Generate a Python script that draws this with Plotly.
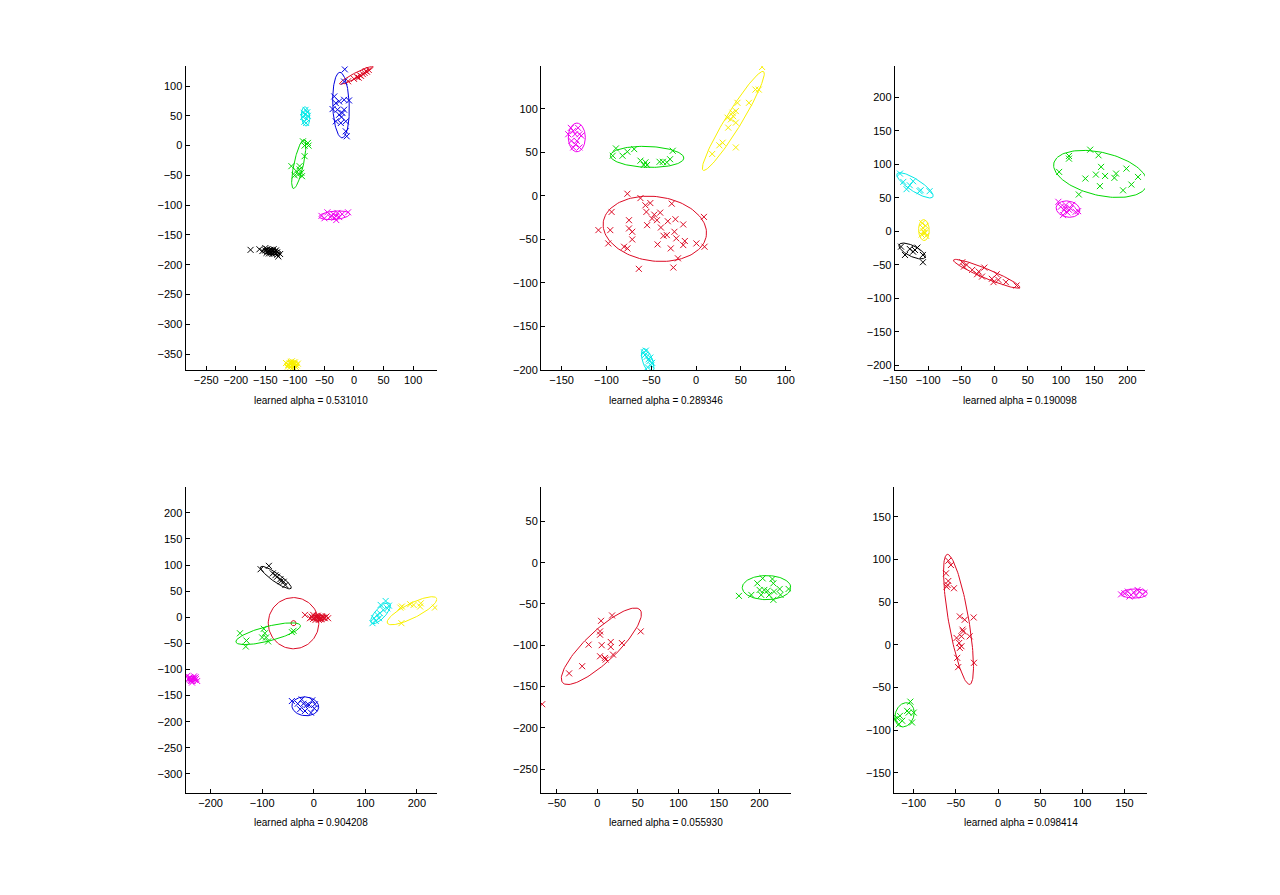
import numpy as np
import plotly.graph_objects as go

# ---------------- data ----------------
# subplot 1
s1_red_x = [-10, 0, 5, 8, 10, 12, 15, 18, 20, 22, 25]
s1_red_y = [108, 112, 115, 114, 118, 117, 120, 122, 125, 124, 127]
s1_blue_x = [-15.6, -16.7, -33.4, -30.7, -25.1, -16.7, -8.4, -36.2, -27.9, -16.7, -25.1, -19.5, -30.7, -22.3, -13.9, -12.3, -13.9, -21.2]
s1_blue_y = [128, 107.5, 82.5, 71.3, 74.1, 76.9, 75.8, 61.3, 60.2, 60.2, 51.8, 54.6, 40.7, 37.9, 40.7, 15.6, 24, 47.9]
s1_cyan_x = [-85, -82, -80, -84, -78, -86, -81, -79, -83]
s1_cyan_y = [55, 60, 45, 40, 50, 48, 38, 56, 52]
s1_green_x = [-86.4, -83.6, -76.9, -83.6, -105.9, -92, -89.2, -100.3, -94.8, -88, -92, -97.5, -78]
s1_green_y = [7.2, 0, 0, -17.8, -34.5, -40, -45.7, -50, -48.5, -51.3, -34.5, -42.9, 4.5]
s1_magenta_x = [-45, -35, -30, -25, -40, -50, -20, -10, -55, -30, -38, -28, -33]
s1_magenta_y = [-112, -115, -118, -120, -120, -122, -115, -112, -118, -125, -118, -113, -121]
s1_black_x = [-175, -160, -150, -145, -140, -135, -130, -125, -128, -148, -142, -138, -132, -155, -136, -144,
              -150, -146, -141, -137, -133, -139, -143, -147, -134, -130]
s1_black_y = [-175, -174, -172, -176, -178, -180, -179, -182, -186, -180, -175, -182, -176, -177, -174, -181,
              -176, -178, -180, -177, -181, -175, -177, -174, -178, -183]
s1_yellow_x = [-115, -110, -105, -100, -108, -95, -102, -112, -98, -106, -104, -109, -101, -97, -107, -111, -103, -100]
s1_yellow_y = [-365, -368, -362, -370, -372, -366, -364, -371, -372, -366, -369, -365, -367, -369, -363, -368, -372, -364]

# subplot 2
s2_magenta_x = [-142.6, -137, -135, -130, -139, -133, -130, -137, -128, -131.6, -139.7, -134.5]
s2_magenta_y = [70.7, 74.5, 70.7, 70.7, 63, 63, 55.5, 55.5, 69, 78, 78, 59]
s2_green_x = [-93, -89.4, -82, -76.6, -69, -62, -58.3, -56.4, -54.6, -40.7, -37, -29, -26, -32.6]
s2_green_y = [46, 54.4, 46, 50.6, 53.6, 40.3, 35.4, 38.4, 35.4, 39, 39, 42, 51.7, 38.4]
s2_yellow_x = [18, 26, 29.7, 40.7, 44.4, 38.9, 44.4, 35.9, 44.4, 46.2, 59, 66.3, 70, 73.7, 35.2, 41.4]
s2_yellow_y = [48, 58, 61, 95.4, 97.3, 87.8, 84, 78.3, 55.5, 106.8, 106.8, 122, 122, 148, 89.7, 91.4]
s2_red_x = [-76.6, -62, -94.2, -108.9, -95.7, -97.9, -74.8, -74.8, -71.2, -71.2, -80.3, -76.6, -63.8, -56.5,
            -55.4, -51, -54.6, -49.1, -46.6, -43.6, -40, -39.2, -42.9, -36.3, -32.6, -31.5, -28.2, -27.1,
            -25.3, -23, -24.1, -22, -14.3, -12.5, -14.3, 0.4, 8.8, 9.5, -20.2]
s2_red_y = [2.3, -2.7, -18.6, -39.5, -39.5, -54.8, -28.1, -37.6, -41.4, -50.2, -58.6, -60.5, -84, -11,
            -18.6, -8.4, -33.8, -26.2, -21.7, -28.1, -19.4, -36.5, -55.9, -46, -45.2, -29.3, -60.5, -9.1,
            -82.5, -27, -41.4, -49, -56.7, -52, -33, -54.8, -24.3, -58.6, -71.9]
s2_cyan_x = [-58, -55, -52, -50, -56, -53, -49, -57, -54, -51]
s2_cyan_y = [-180, -185, -190, -195, -178, -188, -192, -183, -197, -186]

# subplot 3
s3_cyan_x = [-142.6, -137.6, -132.7, -122.8, -113, -111.4, -98, -127.8]
s3_cyan_y = [86, 73.6, 62.7, 74.6, 59.7, 61.2, 59.7, 68.6]
s3_yellow_x = [-108, -105, -110, -104, -107, -103, -109, -106]
s3_yellow_y = [5, -3, -5, 8, 0, -7, 12, -2]
s3_black_x = [-141, -127.8, -122.8, -116.4, -108, -108, -135, -120]
s3_black_y = [-23, -26.5, -30.5, -24.5, -35.4, -46.3, -35.4, -28]
s3_red_x = [-48.7, -46.3, -33.8, -24, -15.5, -19, -4.2, 3.2, 5.7, 17, 33, -42.2, -26.4, -1.7]
s3_red_y = [-46.3, -52.8, -57.7, -60.2, -54.3, -67.7, -71, -64.2, -72.6, -76, -81, -50.3, -64.2, -76]
s3_magenta_x = [96, 99.6, 104.6, 107, 114.5, 122, 125.8, 103, 109.5, 117, 106, 112]
s3_magenta_y = [43.9, 36.4, 31.5, 39, 34, 29, 30, 24, 28, 39.4, 35, 32]
s3_green_x = [97.2, 112, 112, 144, 156.5, 160.4, 152.5, 166.4, 136.7, 158.6, 180.4, 183, 198.5, 206, 193.5, 216, 126.8]
s3_green_y = [88.5, 112.3, 108.3, 121.7, 113.3, 96, 84.5, 82.5, 78.6, 67.3, 79.6, 86, 93.4, 69.6, 61, 81, 54.8]

# subplot 4
s4_black_x = [-103, -87, -79.4, -71.1, -64.7, -58.3, -55, -63.5, -74.3]
s4_black_y = [92, 98.5, 84, 77.6, 73, 68, 61.7, 69, 80.5]
s4_red_x = [-7.3, -4.1, -1, 2.2, 5.4, 8.6, 11.8, 15, 18.2, 21.4, 24.6, 3.5, 9.9, -1, 27.8, -17,
            0, 6, 12, 16, 20, 8, 14, -3]
s4_red_y = [-1.8, 1.4, -3, -0.5, 2.7, -1.8, 1.4, -3, 0.1, -1.8, 1.4, -5, -5, 4.6, -1.8, 4.6,
            -2, 0, -3, 2, -1, 3, -4, 0]
s4_green_x = [-143, -130.5, -131.7, -100, -96.8, -92.3, -88.4, -42.4, -39.2, -94.7]
s4_green_y = [-30.6, -44.6, -56, -38.6, -22, -38.6, -46.2, -28.4, -25.9, -30.6]
s4_magenta_x = [-245, -240, -235, -230, -238, -232, -228, -242, -236, -226, -233, -239, -229, -235, -241]
s4_magenta_y = [-112, -115, -118, -120, -122, -113, -118, -119, -125, -122, -116, -120, -115, -122, -116]
s4_blue_x = [-42.4, -31, -23.3, -20, -13.7, -9.3, -2.9, 1, -5.4, -17, -26.5, 2.2]
s4_blue_y = [-160.4, -165.5, -157.3, -165.5, -168, -168, -159, -174.4, -182.6, -179.4, -176, -166.7]
s4_cyan_x = [113.9, 117, 123.4, 128.5, 134.9, 139.4, 129.8, 142.6, 120.2, 126.6, 145.8]
s4_cyan_y = [-11.3, -1.8, 4.6, 7.7, 14.1, 31.2, 23.6, 17.2, -7, -1.8, 22.3]
s4_yellow_x = [168, 171, 187, 193.6, 206.3, 207.5, 235, 170]
s4_yellow_y = [18.5, 20.6, 25, 23.6, 20.6, 26.7, 18.5, -11.3]

# subplot 5
s5_red_x = [-34.8, -18.7, -10.7, 4.6, 3.4, 3.4, 5.4, 3.4, 9.4, 10.3, 16.6, 16.6, 19.4, 18.2, 30.3, 53.5, -68]
s5_red_y = [-134, -125.3, -99.2, -70.4, -83.2, -87.2, -99.9, -113.3, -115.3, -117.3, -96, -102, -111.3, -63.9, -97.3, -83.2, -171.3]
s5_green_x = [174.7, 190, 197.4, 200.2, 202.2, 204, 206, 216, 217.2, 212, 217.2, 218, 225, 226, 236, 210]
s5_green_y = [-40.2, -39, -25, -33, -39, -19, -33, -19.8, -25, -39, -45, -35, -31.8, -39, -31.8, -34]

# subplot 6
s6_red_x = [-59, -55.9, -61.7, -59, -59.8, -61, -52.3, -45.3, -39.5, -28.9, -41.4, -43.4, -49.2, -46.1,
            -43.4, -45.3, -33.6, -48.4, -47.3, -28.5, -42.2]
s6_red_y = [98.4, 93.4, 83.7, 74.7, 70, 68, 66.2, 33.2, 29.3, 32, 15.7, 9.9, 8, 2.1,
            -1.7, -3.7, 9.9, -15.3, -26.2, -21.1, 17.7]
s6_green_x = [-119.5, -116.4, -117.6, -107.8, -104, -100, -102, -106, -113.7, -122.7]
s6_green_y = [-86, -83.2, -93, -77.4, -66.6, -79.4, -91, -79.4, -89, -87]
s6_magenta_x = [150, 154, 158, 161, 163.7, 167.6, 171.5, 175.4, 156, 165.6, 146]
s6_magenta_y = [60.3, 62.3, 58.4, 61.5, 57.6, 62.3, 59.2, 62.3, 56.5, 64.2, 59]

# ellipse parameters: (colour, centre x, centre y, semi-major, semi-minor, angle in degrees)
s1_ellipses = [("r", 4, 118, 32, 4.5, 27), ("b", -22, 68, 55, 14, 92), ("c", -82, 49, 16, 7, 95),
               ("g", -93.5, -31, 42, 8, 77.5), ("m", -33, -117, 26, 7, 5), ("k", -140, -178, 16, 5, -5),
               ("y", -105, -367, 12, 6, 0)]
s2_ellipses = [("m", -133, 67, 16.5, 9.5, 90), ("g", -54.6, 44.7, 41, 12, -2), ("y", 41.6, 86, 66, 9, 59.3),
               ("r", -46, -38, 58, 37, -8), ("c", -54, -190, 15, 5.5, -72)]
s3_ellipses = [("c", -120, 68.5, 32, 9, -32.7), ("y", -106.5, 1.7, 15.6, 8, 92), ("k", -124.3, -29.5, 21.7, 8, -25.7),
               ("r", -12, -63.5, 54, 7, -22.3), ("m", 110.5, 33, 18, 12, -10), ("g", 159.4, 85.5, 72, 32, -13)]
s4_ellipses = [("k", -73.4, 76, 36, 8, -34.9), ("r", -39.2, -11.3, 49, 49, 0), ("r", -39.2, -11.3, 5, 5, 0),
               ("r", 10, -1, 18, 5, 0), ("g", -88.4, -31.5, 64.5, 14, 14.2), ("m", -236, -118, 9, 5, 0),
               ("b", -16.3, -170.5, 26, 18, -5), ("c", 129.6, 7.7, 25.8, 10, 47), ("y", 190.5, 12.5, 53.4, 14, 26.4)]
s5_ellipses = [("r", 5, -101.2, 65, 19, 42.8), ("g", 208.8, -30.2, 30, 14.6, 0)]
s6_ellipses = [("r", -46.9, 29.7, 77.3, 12, 99.9), ("g", -110.9, -82, 14.5, 11, 70), ("m", 161.7, 60, 15.6, 5.4, 0)]

alphas = ["0.531010", "0.289346", "0.190098", "0.904208", "0.055930", "0.098414"]

x_ranges = [[-285, 141], [-173, 106], [-150.5, 226.5], [-248.5, 239.6], [-69.5, 239], [-123.4, 177.3]]
y_ranges = [[-377, 133], [-200.5, 148.7], [-207.4, 246], [-336, 249], [-278.5, 91.3], [-173.3, 184.5]]
x_dticks = [50, 50, 50, 100, 50, 50]

# ---------------- styling ----------------
COLORS = {"r": "#DC0A24", "g": "#00D800", "b": "#0000E0", "c": "#00E8E8",
          "m": "#F000F0", "y": "#F8F000", "k": "#000000"}
FONT = "Liberation Sans, Arial, Helvetica, sans-serif"

OFF = 8  # page body margin
W, H = 1256, 870
x_px = [(175.7, 430.7), (535.7, 789.0), (894.0, 1147.5), (175.7, 430.7), (535.7, 789.0), (893.3, 1150.0)]
y_px = [(66.7, 372.3)] * 3 + [(490.0, 797.3)] * 3

points = [
    [("r", s1_red_x, s1_red_y), ("b", s1_blue_x, s1_blue_y), ("c", s1_cyan_x, s1_cyan_y),
     ("g", s1_green_x, s1_green_y), ("m", s1_magenta_x, s1_magenta_y), ("k", s1_black_x, s1_black_y),
     ("y", s1_yellow_x, s1_yellow_y)],
    [("m", s2_magenta_x, s2_magenta_y), ("g", s2_green_x, s2_green_y), ("y", s2_yellow_x, s2_yellow_y),
     ("r", s2_red_x, s2_red_y), ("c", s2_cyan_x, s2_cyan_y)],
    [("c", s3_cyan_x, s3_cyan_y), ("y", s3_yellow_x, s3_yellow_y), ("k", s3_black_x, s3_black_y),
     ("r", s3_red_x, s3_red_y), ("m", s3_magenta_x, s3_magenta_y), ("g", s3_green_x, s3_green_y)],
    [("k", s4_black_x, s4_black_y), ("r", s4_red_x, s4_red_y), ("g", s4_green_x, s4_green_y),
     ("m", s4_magenta_x, s4_magenta_y), ("b", s4_blue_x, s4_blue_y), ("c", s4_cyan_x, s4_cyan_y),
     ("y", s4_yellow_x, s4_yellow_y)],
    [("r", s5_red_x, s5_red_y), ("g", s5_green_x, s5_green_y)],
    [("r", s6_red_x, s6_red_y), ("g", s6_green_x, s6_green_y), ("m", s6_magenta_x, s6_magenta_y)],
]
ellipses = [s1_ellipses, s2_ellipses, s3_ellipses, s4_ellipses, s5_ellipses, s6_ellipses]


def ellipse_outline(cx, cy, a, b, ang):
    t = np.linspace(0, 2 * np.pi, 121)
    th = np.deg2rad(ang)
    ex = cx + a * np.cos(t) * np.cos(th) - b * np.sin(t) * np.sin(th)
    ey = cy + a * np.cos(t) * np.sin(th) + b * np.sin(t) * np.cos(th)
    return ex, ey


fig = go.Figure()
layout = dict(width=W, height=H, margin=dict(l=0, r=0, t=0, b=0),
              paper_bgcolor="white", plot_bgcolor="white", showlegend=False,
              font=dict(family=FONT, size=11, color="black"), annotations=[])

for i in range(6):
    n = "" if i == 0 else str(i + 1)
    xa, ya = "x" + n, "y" + n
    for (col, cx, cy, a, b, ang) in ellipses[i]:
        ex, ey = ellipse_outline(cx, cy, a, b, ang)
        fig.add_trace(go.Scatter(x=ex, y=ey, mode="lines", xaxis=xa, yaxis=ya,
                                 line=dict(color=COLORS[col], width=1), hoverinfo="skip"))
    for (col, px, py) in points[i]:
        fig.add_trace(go.Scatter(x=px, y=py, mode="markers", xaxis=xa, yaxis=ya,
                                 marker=dict(symbol="x-thin-open", size=6, color=COLORS[col],
                                             line=dict(color=COLORS[col], width=1))))
    x0, x1 = [v - OFF for v in x_px[i]]
    y0, y1 = [v - OFF for v in y_px[i]]
    common = dict(showgrid=False, zeroline=False, showline=True, linecolor="black", linewidth=1,
                  ticks="inside", ticklen=4, tickcolor="black", tickwidth=1,
                  tickfont=dict(family=FONT, size=11, color="black"), mirror=False)
    layout["xaxis" + n] = dict(domain=[x0 / W, x1 / W], range=x_ranges[i], anchor=ya,
                               dtick=x_dticks[i], tick0=0, **common)
    layout["yaxis" + n] = dict(domain=[1 - y1 / H, 1 - y0 / H], range=y_ranges[i], anchor=xa,
                               dtick=50, tick0=0, **common)
    layout["annotations"].append(dict(
        text="learned alpha = " + alphas[i], xref="paper", yref="paper",
        x=(x0 + x1) / 2 / W, y=1 - (y1 + 30) / H, xanchor="center", yanchor="middle",
        showarrow=False, font=dict(family=FONT, size=10, color="black")))

fig.update_layout(**layout)
fig.write_html("out.html")
